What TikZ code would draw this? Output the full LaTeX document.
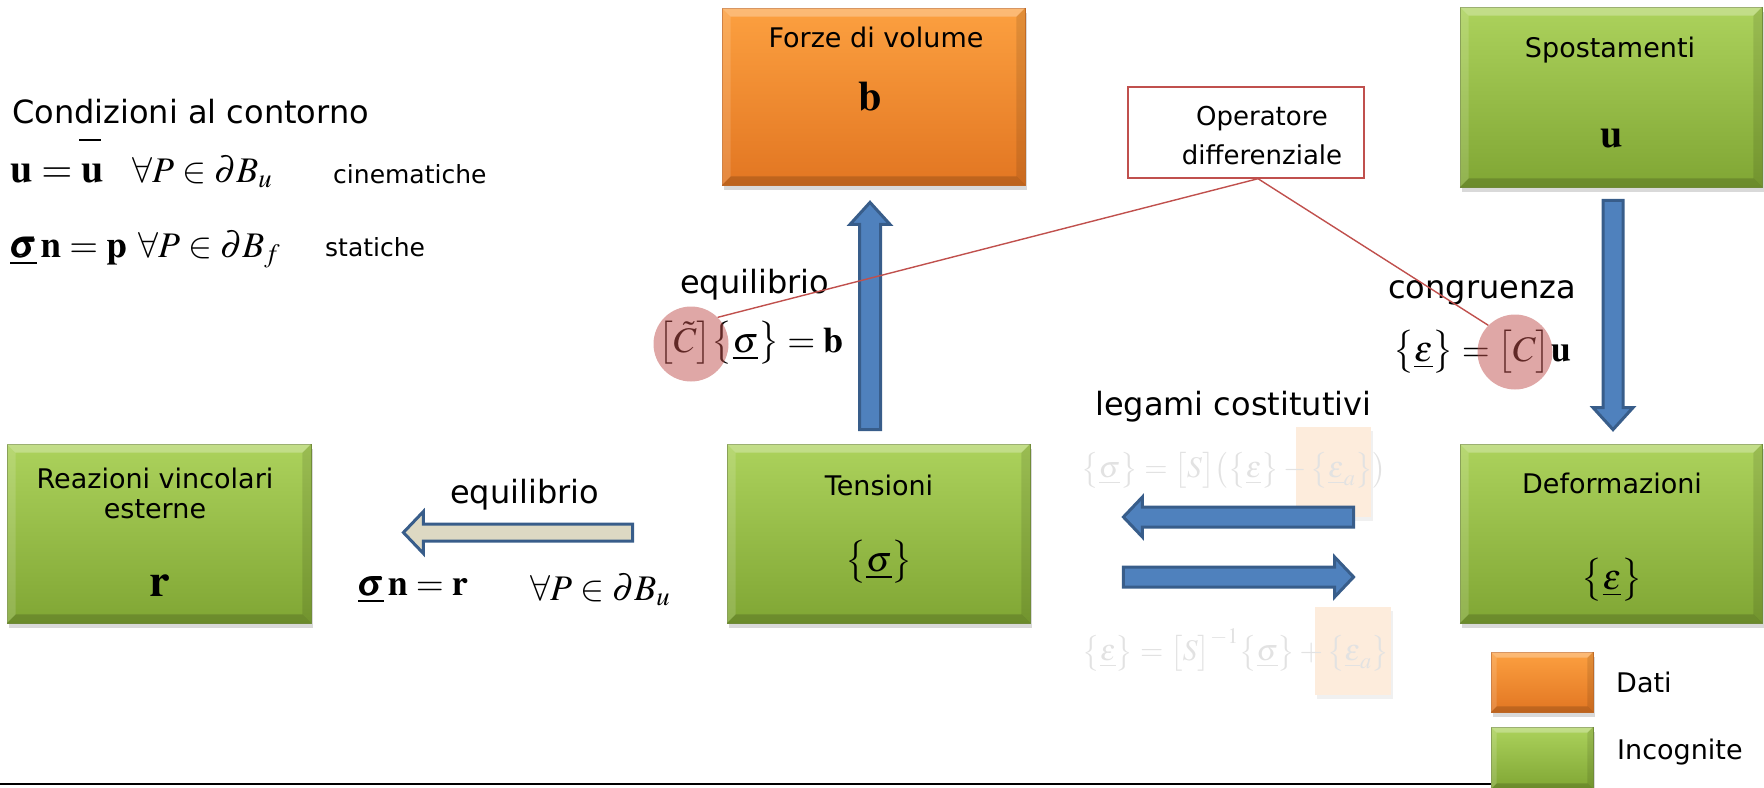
\documentclass[tikz,border=0pt]{standalone}
\usepackage{amsmath}
\usepackage{mathptmx}
\usepackage[no-math]{fontspec}
\setmainfont{DejaVu Sans}
\usetikzlibrary{calc,shadows}

\definecolor{gtop}{RGB}{172,210,92}
\definecolor{gbot}{RGB}{128,166,52}
\definecolor{gline}{RGB}{118,146,60}
\definecolor{otop}{RGB}{252,160,64}
\definecolor{obot}{RGB}{226,118,34}
\definecolor{oline}{RGB}{200,110,40}
\definecolor{redline}{RGB}{192,80,77}
\definecolor{blfill}{RGB}{79,129,189}
\definecolor{bldraw}{RGB}{56,93,138}
\definecolor{beige}{RGB}{221,217,195}
\definecolor{faded}{RGB}{226,226,226}
\definecolor{peach}{RGB}{253,236,220}

\newcommand\boxbevel[2]{%
 \fill[white,opacity=.28] (#1.north west) -- (#1.north east) -- ($(#1.north east)+(-#2,#2)$) -- ($(#1.north west)+(#2,#2)$) -- cycle;
 \fill[white,opacity=.14] (#1.north west) -- ($(#1.north west)+(#2,#2)$) -- ($(#1.south west)+(#2,-#2)$) -- (#1.south west) -- cycle;
 \fill[black,opacity=.10] (#1.north east) -- ($(#1.north east)+(-#2,#2)$) -- ($(#1.south east)+(-#2,-#2)$) -- (#1.south east) -- cycle;
 \fill[black,opacity=.16] (#1.south west) -- ($(#1.south west)+(#2,-#2)$) -- ($(#1.south east)+(-#2,-#2)$) -- (#1.south east) -- cycle;}

\tikzset{
 box/.style={rectangle, draw=gline, line width=0.8pt, top color=gtop, bottom color=gbot,
   drop shadow={shadow xshift=2pt,shadow yshift=-5pt,opacity=0.3}, inner sep=0},
 gbox/.style={box},
 obox/.style={box, draw=oline, top color=otop, bottom color=obot},
 ttl/.style={font=\fontsize{27}{30}\selectfont, inner sep=0},
 small/.style={font=\fontsize{25}{28}\selectfont, inner sep=0},
 big/.style={font=\fontsize{32}{36}\selectfont, inner sep=0},
 mth/.style={font=\fontsize{36}{40}\selectfont, inner sep=0},
 mthL/.style={font=\fontsize{40}{44}\selectfont, inner sep=0},
 mthM/.style={font=\fontsize{37}{41}\selectfont, inner sep=0},
 fade/.style={font=\fontsize{30}{34}\selectfont, inner sep=0, text=faded},
 blk/.style={fill=blfill, draw=bldraw, line width=3pt, line join=miter},
 bgarrow/.style={blk, fill=beige},
 hl/.style={circle, minimum size=75, fill=redline, fill opacity=.5, inner sep=0},
 rl/.style={draw=redline, line width=1.4pt},
 peachbox/.style={fill=peach, inner sep=0, drop shadow={shadow xshift=2pt,shadow yshift=-4pt,opacity=0.12}}
}

\begin{document}
\begin{tikzpicture}[x=1pt,y=-1pt]
\useasboundingbox (0,0) rectangle (1764,787);

% boxes
\node[gbox, minimum width=304, minimum height=179] (reaz) at (159,533.5) {};
\node[gbox, minimum width=303, minimum height=179] (tens) at (878.5,533.5) {};
\node[gbox, minimum width=302, minimum height=179] (defo) at (1611,533.5) {};
\node[obox, minimum width=303, minimum height=177] (forze) at (873.5,96.5) {};
\node[gbox, minimum width=302, minimum height=180] (spost) at (1611,97) {};
\boxbevel{reaz}{9}
\boxbevel{tens}{9}
\boxbevel{defo}{9}
\boxbevel{forze}{9}
\boxbevel{spost}{9}

\node[rectangle, draw=redline, line width=1.4pt, fill=white, minimum width=236, minimum height=91] (oper) at (1246,132.5) {};
\node[small, font=\fontsize{26}{30}\selectfont, anchor=base] (oper1) at (1262,125) {Operatore};
\node[small, font=\fontsize{26}{30}\selectfont, anchor=base] (oper2) at (1262,164) {differenziale};

% box texts
\node[ttl, anchor=base] (reazA) at (155,488) {Reazioni vincolari};
\node[ttl, anchor=base] (reazB) at (155,518) {esterne};
\node[mth, font=\fontsize{46}{50}\selectfont] (reazR) at (160,586) {$\mathbf r$};
\node[ttl, anchor=base] (tensA) at (879,495) {Tensioni};
\node[mth] (tensS) at (879,562) {$\bigl\{\underline{\sigma}\bigr\}$};
\node[ttl, anchor=base] (defoA) at (1612,493) {Deformazioni};
\node[mth] (defoE) at (1612,580) {$\bigl\{\underline{\varepsilon}\bigr\}$};
\node[ttl, anchor=base] (forzeA) at (876,47) {Forze di volume};
\node[mth, font=\fontsize{42}{46}\selectfont] (forzeB) at (870,97) {$\mathbf b$};
\node[ttl, anchor=base] (spostA) at (1610,57) {Spostamenti};
\node[mth, font=\fontsize{40}{44}\selectfont] (spostU) at (1612,138) {$\mathbf u$};

% boundary conditions
\node[big, anchor=base west] (cond) at (12,123) {Condizioni al contorno};
\draw[line width=2.5pt] (79,140) -- (101,140);
\node[mthL, anchor=base west] (c1a) at (10,182) {$\mathbf u=\mathbf u$};
\node[mth, anchor=base west] (c1b) at (132,182) {$\forall P\in\partial B_u$};
\node[small, anchor=base west] (c1c) at (333,183) {cinematiche};
\node[mthM, anchor=base west] (c2a) at (10,257) {$\underline{\pmb{\sigma}}\,\mathbf n=\mathbf p$};
\node[mth, anchor=base west] (c2b) at (138,257) {$\forall P\in\partial B_f$};
\node[small, anchor=base west] (c2c) at (325,256) {statiche};

% equilibrio (top)
\node[big, anchor=base west] (eq1) at (680,293) {equilibrio};
\node[mth] (eq1f) at (751,343) {$\bigl[\tilde C\bigr]\bigl\{\underline{\sigma}\bigr\}=\mathbf b$};

% congruenza
\node[big, anchor=base west] (cong) at (1388,298) {congruenza};
\node[mth] (congf) at (1482,352) {$\bigl\{\underline{\varepsilon}\bigr\}=\bigl[C\bigr]\mathbf u$};

% legami costitutivi
\node[big, anchor=base west] (leg) at (1095,415) {legami costitutivi};
\node[peachbox, minimum width=75, minimum height=90] (p1) at (1333.5,472) {};
\node[peachbox, minimum width=76, minimum height=88] (p2) at (1353,651) {};
\node[fade] (leg1) at (1234,470) {$\bigl\{\underline{\sigma}\bigr\}=\bigl[S\bigr]\bigl(\bigl\{\underline{\varepsilon}\bigr\}-\bigl\{\underline{\varepsilon}_a\bigr\}\bigr)$};
\node[fade] (leg2) at (1236,650) {$\bigl\{\underline{\varepsilon}\bigr\}=\bigl[S\bigr]^{-1}\bigl\{\underline{\sigma}\bigr\}+\bigl\{\underline{\varepsilon}_a\bigr\}$};

% equilibrio (bottom)
\node[big, anchor=base west] (eq2) at (450,503) {equilibrio};
\node[mth, anchor=west] (eq2f) at (358,590) {$\underline{\pmb{\sigma}}\,\mathbf n=\mathbf r$};
\node[mth, anchor=west] (eq2g) at (530,590) {$\forall P\in\partial B_u$};

% block arrows
\coordinate (u0) at ($(tens.north)+(-8.5,-14)$);
\coordinate (u1) at ($(forze.south)+(-3.5,17)$);
\draw[blk] ($(u0)+(-10.5,0)$) -- ($(u1)+(-10.5,22)$) -- ($(u1)+(-20,22)$) -- (u1) -- ($(u1)+(20,22)$) -- ($(u1)+(10.5,22)$) -- ($(u0)+(10.5,0)$) -- cycle;

\coordinate (d0) at ($(spost.south)+(2,13)$);
\coordinate (d1) at ($(defo.north)+(2,-14)$);
\draw[blk] ($(d0)+(-10,0)$) -- ($(d1)+(-10,-22)$) -- ($(d1)+(-20,-22)$) -- (d1) -- ($(d1)+(20,-22)$) -- ($(d1)+(10,-22)$) -- ($(d0)+(10,0)$) -- cycle;

\coordinate (l0) at ($(defo.west)+(-106,-16.5)$);
\coordinate (l1) at ($(tens.east)+(93,-16.5)$);
\draw[blk] ($(l0)+(0,-10)$) -- ($(l1)+(19,-10)$) -- ($(l1)+(19,-20)$) -- (l1) -- ($(l1)+(19,20)$) -- ($(l1)+(19,10)$) -- ($(l0)+(0,10)$) -- cycle;

\coordinate (r0) at ($(tens.east)+(93,43.5)$);
\coordinate (r1) at ($(defo.west)+(-106,43.5)$);
\draw[blk] ($(r0)+(0,-10)$) -- ($(r1)+(-19,-10)$) -- ($(r1)+(-19,-20)$) -- (r1) -- ($(r1)+(-19,20)$) -- ($(r1)+(-19,10)$) -- ($(r0)+(0,10)$) -- cycle;

\coordinate (e0) at ($(tens.west)+(-94,-1)$);
\coordinate (e1) at ($(reaz.east)+(92,-1)$);
\draw[bgarrow] ($(e0)+(0,-8.5)$) -- ($(e1)+(20,-8.5)$) -- ($(e1)+(20,-21)$) -- (e1) -- ($(e1)+(20,21)$) -- ($(e1)+(20,8.5)$) -- ($(e0)+(0,8.5)$) -- cycle;

% highlight circles and operator lines
\node[hl] (cl) at (691,344) {};
\node[hl] (cr) at (1515,352) {};
\coordinate (ok) at ($(oper.south)+(12,0)$);
\draw[rl] (ok) -- (cl.north east);
\draw[rl] (ok) -- (cr.north west);

% legend and bottom rule
\coordinate (ruleL) at (0,784);
\coordinate (ruleR) at (1492,784);
\draw[line width=2pt] (ruleL) -- (ruleR);
\node[obox, minimum width=102, minimum height=60] (lgo) at (1542,682) {};
\node[gbox, minimum width=102, minimum height=62] (lgg) at (1542,758) {};
\boxbevel{lgo}{6}
\boxbevel{lgg}{6}
\node[ttl, anchor=west] (lgoT) at (1616,682) {Dati};
\node[ttl, anchor=west] (lggT) at (1617,752) {Incognite};
\end{tikzpicture}
\end{document}
